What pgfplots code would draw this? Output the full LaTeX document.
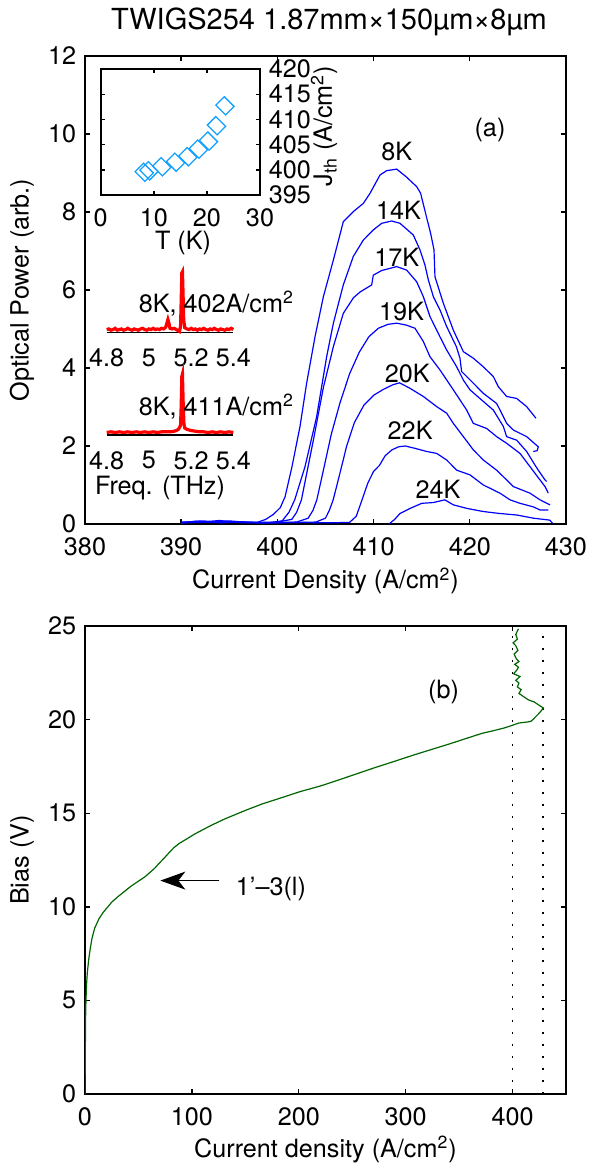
\documentclass[border=0pt]{standalone}
\usepackage{fontspec}
\setmainfont{TeX Gyre Heros}
\usepackage{pgfplots}
\pgfplotsset{compat=1.18}
\usetikzlibrary{arrows.meta}
\definecolor{dgreen}{RGB}{0,100,0}
\definecolor{dblue}{RGB}{20,160,255}
\pgfplotsset{every axis/.append style={
  /pgf/number format/assume math mode=true,
  major tick length=2.5pt,
  axis line style={line width=0.9pt},
  every tick/.style={black, line width=0.7pt},
  xticklabel style={yshift=-2.3pt},
}}
\begin{document}
\fontsize{12.6}{15}\selectfont
\begin{tikzpicture}
% ---------------- top axis ----------------
\begin{axis}[at={(42.5pt,-262pt)}, anchor=south west, scale only axis,
  width=240.5pt, height=234pt,
  xmin=380, xmax=430, ymin=0, ymax=12,
  xtick={380,390,...,430}, ytick={0,2,...,12},
  xlabel={Current Density (A/cm\textsuperscript{2})},
  ylabel={Optical Power (arb.)},
  xlabel style={at={(axis description cs:0.5,-0.122)}, anchor=center},
  ylabel style={at={(axis description cs:-0.131,0.5)}, anchor=center},
]
\addplot[blue, line width=0.6pt] table {
390 0.04
391 0.06
392 0.08
393 0.07
394 0.09
395 0.06
396 0.04
397 0.03
398 0.05
398.8 0.12
399.6 0.25
400.3 0.42
400.8 0.7
401.5 1.45
402.35 2.50
403.04 3.61
403.91 4.80
404.78 5.83
405.82 6.77
406.85 7.75
407.89 8.01
408.93 8.22
409.63 8.48
410.67 8.95
411.36 9.06
412.40 9.10
413.4 8.9
414.48 8.65
414.89 8.48
415.45 7.92
415.93 7.45
416.28 7.03
416.38 6.34
417.25 5.66
418.29 4.97
419.33 4.42
420.37 4.25
421.41 4.03
422.45 3.78
422.97 3.52
423.83 3.27
424.87 3.22
425.91 3.01
426.88 2.71
};
\addplot[blue, line width=0.6pt] table {
390 0.03
391.5 0.07
393 0.05
395 0.08
397 0.04
399 0.03
400.5 0.08
401.2 0.3
401.8 0.62
402.87 1.47
404.08 2.75
405.12 4.29
405.82 5.15
406.85 6.13
407.89 6.86
408.93 7.28
409.97 7.54
410.84 7.71
411.88 7.77
412.74 7.71
414.13 7.41
414.82 7.03
415.34 6.64
415.69 6.26
416.21 5.83
416.9 5.49
417.6 5.06
418.6 4.55
418.98 4.25
419.15 3.91
420.37 3.61
421.41 3.35
422.79 3.09
423.31 2.84
423.83 2.58
424.53 2.41
425.91 2.24
427.12 1.98
427.0 1.88
426.6 1.86
};
\addplot[blue, line width=0.6pt] table {
390 0.05
392 0.04
394 0.07
396 0.05
398 0.04
400 0.05
401.5 0.12
402.0 0.3
402.5 0.62
403.74 2.15
404.78 3.5
405.82 4.55
406.85 5.4
407.9 5.8
408.6 5.95
409.8 6.13
409.97 6.38
410.84 6.5
412.4 6.6
413.44 6.51
414.48 6.21
415.17 5.83
415.86 5.32
416.9 4.80
417.6 4.46
418.64 4.03
419.33 3.69
420.02 3.44
421.23 3.18
422.45 2.92
423.49 2.5
423.83 2.24
424.87 2.15
425.91 1.86
426.78 1.51
427.12 1.38
427.82 1.13
427.99 1.09
};
\addplot[blue, line width=0.6pt] table {
390 0.03
392 0.05
394 0.04
396 0.06
398 0.03
400 0.04
402 0.05
403.2 0.15
403.7 0.35
404.1 0.62
404.8 1.4
405.6 2.3
406.5 3.1
407.5 3.85
408.5 4.4
409.5 4.8
410.5 5.02
411.5 5.12
412.4 5.15
413.4 5.1
414.3 5.02
415.17 4.68
415.86 4.29
416.9 3.95
418.29 3.44
419.68 2.92
420.37 2.58
421.75 2.45
422.79 2.24
423.83 2.07
425.22 1.81
426.26 1.47
427.3 1.13
427.82 0.96
428.16 0.79
};
\addplot[blue, line width=0.6pt] table {
390 0.04
392 0.06
394 0.03
396 0.05
398 0.04
400 0.03
402 0.04
404 0.05
405.0 0.15
405.4 0.35
405.8 0.62
406.5 1.3
407.2 2.0
408.0 2.6
409.0 3.05
410.0 3.3
411.0 3.45
412.0 3.57
412.7 3.62
413.78 3.48
415.17 3.27
416.56 3.01
417.6 2.84
418.29 2.58
419.33 2.24
420.37 1.9
421.41 1.64
422.79 1.38
423.83 1.13
424.53 0.96
426.26 0.79
427.3 0.62
428.34 0.49
};
\addplot[blue, line width=0.6pt] table {
390 0.03
393 0.05
396 0.04
399 0.03
402 0.04
405 0.03
407.5 0.04
408.2 0.2
408.8 0.62
409.4 1.05
410.0 1.35
410.6 1.5
411.2 1.75
411.9 1.9
412.6 1.98
413.3 2.0
414.3 1.94
415.52 1.86
416.56 1.81
417.6 1.64
418.64 1.38
420.02 1.26
421.41 1.0
423.14 0.79
424.18 0.62
425.22 0.53
426.6 0.44
427.3 0.36
428.16 0.36
};
\addplot[blue, line width=0.6pt] table {
411.6 0.0
412.2 0.12
412.74 0.27
413.8 0.4
415.0 0.53
416.2 0.55
417.4 0.62
418.3 0.49
419.7 0.4
421.4 0.32
423.1 0.27
424.9 0.23
426.6 0.15
428.3 0.1
428.6 0.02
};
\node at (axis cs:412.4,9.55) {8K};
\node at (axis cs:412.6,8.05) {14K};
\node at (axis cs:412.4,6.85) {17K};
\node at (axis cs:412.9,5.44) {19K};
\node at (axis cs:413.5,3.86) {20K};
\node at (axis cs:413.8,2.41) {22K};
\node at (axis cs:416.7,0.9) {24K};
\node at (axis cs:422.1,10.1) {(a)};
\end{axis}
% ---------------- inset Jth vs T ----------------
\begin{axis}[at={(50.35pt,-97.5pt)}, anchor=south west, scale only axis,
  width=79.65pt, height=63pt,
  xmin=0, xmax=30, ymin=395, ymax=420,
  xtick={0,10,20,30}, ytick={395,400,...,420},
  yticklabel pos=right,
  major tick length=2pt,
  xlabel={T (K)},
  ylabel={J\textsubscript{th} (A/cm\textsuperscript{2})},
  xlabel style={at={(axis description cs:0.517,-0.381)}, anchor=center},
  ylabel style={at={(axis description cs:1.402,0.548)}, anchor=center, rotate=0},
]
\addplot[only marks, dblue, mark=square, mark size=3pt, mark options={rotate=45, yscale=1.15, line width=0.65pt}] table {
8.2 399.5
9.1 399.8
11.5 400.6
14.1 401.5
16.4 402.6
18.4 404.1
20.3 405.7
21.8 408.75
23.4 412.7
};
\end{axis}
% ---------------- spectrum 1 ----------------
\begin{axis}[at={(53.35pt,-166.35pt)}, anchor=south west, scale only axis,
  width=63.3pt, height=31.35pt,
  xmin=4.8, xmax=5.4, ymin=0, ymax=1,
  axis x line*=bottom, axis y line=none, x axis line style={-, line width=0.7pt},
  xtick={4.8,5,5.2,5.4}, major tick length=0pt,
  xticklabel style={yshift=-1.5pt},
  clip=false,
]
\addplot[red, line width=1.6pt] table {
4.80 0.05
4.81 0.06
4.82 0.04
4.83 0.05
4.84 0.07
4.85 0.04
4.86 0.05
4.87 0.06
4.88 0.04
4.89 0.05
4.90 0.07
4.91 0.05
4.92 0.04
4.93 0.06
4.94 0.05
4.95 0.04
4.96 0.06
4.97 0.07
4.98 0.05
4.99 0.04
5.00 0.06
5.01 0.05
5.02 0.07
5.03 0.05
5.04 0.06
5.05 0.05
5.06 0.07
5.07 0.06
5.08 0.09
5.085 0.15
5.09 0.21
5.095 0.15
5.10 0.07
5.11 0.06
5.12 0.07
5.13 0.05
5.14 0.03
5.145 0.02
5.15 0.10
5.153 0.5
5.156 0.95
5.159 0.97
5.162 0.6
5.165 0.2
5.17 0.08
5.18 0.06
5.19 0.05
5.20 0.07
5.21 0.05
5.22 0.06
5.23 0.04
5.24 0.06
5.25 0.05
5.26 0.07
5.27 0.05
5.28 0.04
5.29 0.06
5.30 0.05
5.31 0.07
5.32 0.05
5.33 0.04
5.34 0.06
5.35 0.05
5.36 0.04
5.37 0.06
5.38 0.05
5.39 0.07
5.40 0.05
};
\node[anchor=base west, inner sep=0pt] at (axis cs:4.95,0.32) {8K, 402A/cm\textsuperscript{2}};
\end{axis}
% ---------------- spectrum 2 ----------------
\begin{axis}[at={(53.35pt,-217.5pt)}, anchor=south west, scale only axis,
  width=63.3pt, height=31.65pt,
  xmin=4.8, xmax=5.4, ymin=0, ymax=1,
  axis x line*=bottom, axis y line=none, x axis line style={-, line width=0.7pt},
  xtick={4.8,5,5.2,5.4}, major tick length=0pt,
  xticklabel style={yshift=-1.5pt},
  clip=false,
]
\addplot[red, line width=1.6pt] table {
4.80 0.04
4.82 0.05
4.84 0.04
4.86 0.05
4.88 0.04
4.90 0.05
4.92 0.04
4.94 0.05
4.96 0.04
4.98 0.05
5.00 0.04
5.02 0.05
5.04 0.04
5.06 0.05
5.08 0.05
5.10 0.05
5.12 0.06
5.13 0.07
5.14 0.09
5.15 0.15
5.153 0.45
5.156 0.92
5.159 0.96
5.162 0.55
5.166 0.18
5.17 0.11
5.18 0.09
5.19 0.08
5.20 0.07
5.22 0.06
5.24 0.05
5.26 0.05
5.28 0.04
5.30 0.05
5.32 0.04
5.34 0.05
5.36 0.04
5.38 0.05
5.40 0.04
};
\node[anchor=base west, inner sep=0pt] at (axis cs:4.95,0.316) {8K, 411A/cm\textsuperscript{2}};
\end{axis}
\node at (80pt,-244pt) {Freq. (THz)};
% ---------------- bottom axis ----------------
\begin{axis}[at={(42.5pt,-547pt)}, anchor=south west, scale only axis,
  width=240.5pt, height=234pt,
  xmin=0, xmax=450, ymin=0, ymax=25,
  xtick={0,100,...,400}, ytick={0,5,...,25},
  xlabel={Current density (A/cm\textsuperscript{2})},
  ylabel={Bias (V)},
  xlabel style={at={(axis description cs:0.5,-0.118)}, anchor=center},
  ylabel style={at={(axis description cs:-0.131,0.5)}, anchor=center},
]
\addplot[black, line width=0.8pt, dash pattern=on 0.8pt off 5.2pt] coordinates {(400,0) (400,24.5)};
\addplot[black, line width=0.8pt, dash pattern=on 0.8pt off 5.2pt] coordinates {(428.5,0) (428.5,24.5)};
\addplot[dgreen, line width=0.6pt] table {
0 0
0.2 1.5
0.4 3
0.6 4.2
0.9 5.0
1.4 5.8
2.2 6.5
3.5 7.2
5 7.8
6.5 8.3
9 8.85
13 9.35
17 9.7
25 10.25
31 10.55
43 11.1
50 11.37
56 11.6
61 11.85
65 12.05
69 12.3
74 12.6
78.5 12.88
83 13.15
88 13.38
95 13.62
103 13.9
118 14.35
131 14.7
150 15.15
166 15.5
185 15.85
201 16.15
220 16.45
237 16.77
255 17.12
272 17.45
290 17.78
307 18.1
325 18.42
342 18.72
357 19.0
371 19.26
383 19.42
392 19.55
400 19.7
406 19.82
412 19.86
417 19.9
419 20.0
421 20.12
425 20.35
428.9 20.62
424 20.8
420 20.95
415 21.05
411 21.2
406 21.4
408 21.6
404.5 21.75
406 21.95
403 22.1
407 22.3
401 22.45
404 22.65
405.5 22.8
402 22.95
406 23.1
403.5 23.25
401.5 23.5
405 23.7
403 23.95
400.5 24.1
404.5 24.3
403 24.55
405.5 24.85
};
\node at (axis cs:335.5,21.48) {(b)};
\draw[-{Stealth[length=12.5pt,width=9pt,inset=3.5pt]}, line width=0.5pt] (axis cs:125.8,11.4) -- (axis cs:70.5,11.4);
\node[anchor=west] at (axis cs:133,10.95) {1'--3(l)};
\end{axis}
\node at (164.5pt,-11pt) {\fontsize{14.5}{16}\selectfont TWIGS254 1.87mm×150µm×8µm};
\pgfresetboundingbox
\path[use as bounding box] (0pt,0pt) rectangle (294.5pt,-583.5pt);
\end{tikzpicture}
\end{document}
